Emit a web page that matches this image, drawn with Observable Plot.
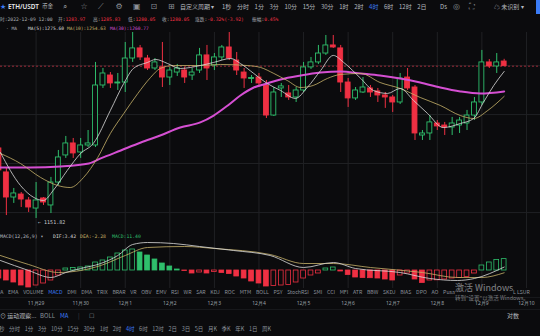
<!DOCTYPE html>
<html><head><meta charset="utf-8">
<script src="https://cdn.jsdelivr.net/npm/d3@7"></script>
<script src="https://cdn.jsdelivr.net/npm/@observablehq/plot@0.6"></script>
<style>
html,body{margin:0;padding:0;background:#0b0b0d;}
#root{position:relative;width:540px;height:336px;overflow:hidden;background:#0b0b0d;font-family:"Noto Sans CJK SC","Noto Sans",sans-serif;color:#9aa0a8;}
.t{position:absolute;white-space:nowrap;line-height:1;}
.row{position:absolute;display:flex;white-space:nowrap;line-height:1;align-items:center;}
.pl{position:absolute;left:0;}
</style></head>
<body><div id="root"></div>
<script>
// ---------------- DATA ----------------
const symbol = "ETH/USDT";
const infoTime = "2022-12-09 12:00";
const infoLabels = ["开","高","低","收","涨跌","振幅"];
const infoValues = ["1283.97","1285.83","1280.05","1280.05","-0.32%(-3.92)","0.45%"];
const maLabels = ["MA(5)","MA(10)","MA(30)"];
const maValues = ["1275.60","1254.63","1260.77"];
const macdLabels = ["DIF","DEA","MACD"];
const macdValues = ["3.42","-2.28","11.40"];
const lowLabel = "1151.82";

const dayLabels = ["11月29","11月30","12月1","12月2","12月3","12月4","12月5","12月6","12月7","12月8","12月9","12月10"];
const candlesPerDay = 6; // 4h candles, index 0 = 11-28 00:00

// OHLC of 4h candles, index 1 .. 69
const opens  = [1210.8,1190.6,1169.5,1172.0,1167.0,1160.2,1168.7,1162.8,1182.1,1204.9,1215.0,1207.4,1213.3,1213.3,1263.8,1272.2,1265.5,1266.3,1286.5,1295.0,1286.5,1278.1,1279.0,1270.5,1274.7,1276.4,1272.2,1276.4,1289.1,1280.6,1287.4,1295.8,1284.8,1274.7,1269.3,1270.5,1263.8,1238.5,1261.3,1257.1,1253.7,1259.6,1279.0,1283.2,1290.7,1297.5,1295.0,1266.3,1252.9,1257.9,1261.3,1258.8,1255.4,1253.7,1249.5,1270.5,1262.1,1221.7,1223.4,1231.8,1230.1,1228.4,1230.1,1231.8,1238.5,1249.5,1283.2,1279.8,1283.97];
const highs  = [1213.3,1193.9,1177.1,1173.7,1169.5,1182.1,1169.5,1186.4,1209.1,1220.9,1219.2,1219.2,1225.9,1283.2,1278.1,1274.7,1273.9,1300.0,1310.1,1297.5,1289.1,1286.5,1300.0,1279.0,1281.5,1279.0,1278.1,1295.0,1297.5,1290.7,1297.5,1308.4,1291.6,1278.1,1272.2,1273.9,1268.0,1262.1,1265.5,1263.8,1262.1,1283.2,1287.4,1297.5,1305.9,1305.9,1297.5,1269.7,1262.1,1270.5,1263.8,1261.3,1257.9,1255.4,1273.9,1278.1,1263.8,1225.9,1238.5,1234.3,1232.7,1236.9,1236.9,1242.8,1253.7,1293.3,1285.6,1290.7,1285.83];
const lows   = [1188.0,1154.3,1164.5,1161.1,1156.9,1151.82,1162.8,1156.0,1179.6,1202.4,1202.4,1202.4,1211.6,1211.6,1261.3,1261.3,1259.6,1257.9,1283.2,1284.8,1276.4,1276.4,1262.1,1263.8,1271.4,1265.5,1268.0,1273.9,1268.0,1276.4,1284.8,1284.8,1272.2,1261.3,1265.5,1262.1,1236.0,1237.7,1253.7,1251.2,1249.5,1257.9,1277.3,1281.5,1289.1,1295.0,1257.9,1245.3,1251.2,1257.1,1253.7,1249.5,1244.5,1241.1,1247.8,1259.6,1217.5,1217.5,1217.5,1225.9,1221.7,1221.7,1223.4,1225.9,1234.3,1247.0,1278.1,1273.9,1280.05];
const closes = [1192.3,1169.5,1172.9,1167.8,1161.1,1167.0,1165.3,1182.1,1203.2,1215.0,1206.6,1213.3,1215.0,1263.8,1273.9,1265.5,1266.3,1286.5,1295.0,1287.4,1278.1,1283.2,1270.5,1276.4,1278.1,1270.5,1274.7,1289.1,1278.1,1287.4,1295.8,1286.5,1276.4,1269.7,1270.1,1265.5,1238.5,1257.9,1263.0,1253.7,1259.6,1279.0,1283.2,1290.7,1297.5,1295.8,1266.3,1252.9,1259.6,1262.1,1257.9,1255.4,1253.7,1249.5,1269.7,1261.3,1223.4,1223.4,1232.7,1229.3,1228.4,1231.8,1234.3,1238.5,1249.5,1283.2,1279.8,1283.2,1280.05];

// moving averages: [candle index, price]
const ma5 = [[1.2,1207.4],[3.9,1179.6],[5.7,1169.5],[7.0,1167.0],[8.3,1175.4],[10.2,1192.3],[12.0,1206.6],[13.7,1215.0],[16.0,1242.8],[17.8,1265.5],[19.1,1278.1],[21.0,1283.2],[22.1,1285.7],[23.7,1282.3],[25.4,1278.1],[28.1,1280.6],[29.9,1283.2],[32.2,1286.5],[33.5,1282.3],[35.3,1273.9],[37.1,1265.5],[38.9,1259.6],[40.9,1252.9],[42.5,1262.1],[44.3,1276.4],[46.0,1289.1],[47.4,1283.2],[49.7,1269.7],[51.4,1259.6],[53.3,1257.1],[55.0,1261.3],[56.8,1251.2],[58.7,1240.2],[60.8,1228.4],[63.1,1231.8],[64.9,1236.0],[66.2,1249.5],[67.6,1263.8],[69,1275.6]];
const ma10 = [[1.2,1206.6],[3.9,1198.1],[6.6,1186.4],[8.9,1179.6],[10.6,1177.9],[12.4,1186.4],[14.3,1203.2],[16.0,1223.4],[17.8,1240.2],[19.7,1257.1],[21.4,1270.5],[22.7,1278.1],[24.5,1280.6],[28.1,1280.6],[30.8,1281.5],[34.4,1280.6],[36.2,1279.0],[38.0,1273.9],[39.8,1268.0],[41.6,1262.1],[43.3,1263.8],[45.2,1269.7],[47.0,1273.1],[49.7,1273.9],[52.3,1266.3],[55.0,1261.3],[57.7,1253.7],[60.4,1247.0],[63.1,1238.5],[64.9,1236.0],[66.8,1242.8],[69,1254.63]];
const ma30 = [[1.2,1194.8],[5.2,1194.8],[9.3,1195.6],[13.1,1198.1],[14.7,1202.4],[17.4,1209.1],[20.1,1215.8],[22.7,1221.7],[25.4,1228.4],[28.1,1232.7],[29.9,1238.5],[31.8,1247.0],[33.5,1255.4],[35.3,1262.1],[37.1,1265.5],[38.9,1268.9],[41.6,1272.2],[44.3,1274.7],[47.0,1275.6],[49.7,1273.9],[52.3,1272.2],[55.0,1269.7],[57.7,1266.3],[60.4,1262.1],[63.1,1258.8],[65.8,1257.1],[69,1258.8]];
const gridPrices = [1280.5,1239.3,1198.1,1156.8];

// MACD histogram, index 1 .. 69
const macdHist = [-8,-10,-12,-15,-17,-15,-13,-10,-5,2,2.5,3,4,8,10,13,17,20,21,18,15,11,7,4,1,-0.5,-3,-2,-3,-1.5,-2.5,-3.5,-6,-8,-11,-13,-16,-15.5,-15,-14.5,-12,-8,-5,-3,2,3,-1,-4.5,-7,-7.5,-7.7,-8,-9,-10,-5,-3,-9,-12.5,-10,-9.8,-9,-8,-7.5,-6.5,-3,5,8,10.5,11.4];
const dif = [[1.2,10],[5,0],[8,-7],[10,-2],[12,2],[14.7,7],[17,15],[19,26],[21,28],[24.5,27],[28,24],[32.6,20],[37.5,15],[42,3],[46,8],[49,2],[55,-2],[59,-8],[62.7,-10],[65,-8],[69,3.42]];
const dea = [[1.2,15],[5,6],[9,-2],[12,0],[14.7,5],[18,15],[21,23],[26,24],[30,22],[37.5,16],[42,7],[46,7],[51,3],[58,-2],[62.7,-7],[66,-7],[69,-2.28]];

const toolbarIntervals = ["1秒","分时","1分","3分","10分","15分","30分","1时","2时","4时","6时","12时","2日"];
const activeInterval = "4时";
const indicatorTabs = ["MA","EMA","VOLUME","MACD","DMI","DMA","TRIX","BRAR","VR","OBV","EMV","RSI","WR","SAR","KDJ","ROC","MTM","BOLL","PSY","StochRSI","SMI","CCI","MFI","ATR","BBW","SKDJ","BIAS","DPO","AO","Pusa"];
const activeTab = "MACD";
const bottomIntervals = ["秒","分时","1分","3分","10分","15分","30分","1时","2时","4时","6时","12时","2日","3日","5日","月K","季K","年K","1日","周K"];

// ---------------- STYLE ----------------
const BG = "#0b0b0d", UP = "#2fbf6c", DOWN = "#ef3043", GRID = "#202124";
const C5 = "#dcdcdc", C10 = "#c8b26a", C30 = "#d54fd2", BLUE = "#3b7cf6";
const MONO = "'DejaVu Sans Mono','Noto Sans CJK SC',monospace";

const root = document.getElementById("root");
function T(x, y, s, o = {}) {
  const d = document.createElement("div");
  d.className = "t";
  d.textContent = s;
  d.style.left = x + "px"; d.style.top = y + "px";
  d.style.fontSize = (o.size || 5.5) + "px";
  d.style.color = o.color || "#9aa0a8";
  if (o.font) d.style.fontFamily = o.font;
  if (o.weight) d.style.fontWeight = o.weight;
  d.style.transform = o.center ? "translate(-50%,-50%)" : "translateY(-50%)";
  if (o.opacity) d.style.opacity = o.opacity;
  root.appendChild(d);
  return d;
}
function R(x, y, items, o = {}) {
  const d = document.createElement("div");
  d.className = "row";
  d.style.left = x + "px"; d.style.top = y + "px";
  d.style.transform = "translateY(-50%)";
  d.style.gap = o.gap + "px";
  d.style.fontSize = o.size + "px";
  items.forEach(s => {
    const sp = document.createElement("span");
    sp.textContent = s;
    sp.style.color = s === o.active ? BLUE : (o.color || "#8a9099");
    d.appendChild(sp);
  });
  root.appendChild(d);
}

// ---------------- TOOLBAR ----------------
T(0, 7, "★", {size: 7, color: BLUE, font: "DejaVu Sans"});
T(8, 7, symbol, {size: 6.4, color: "#e6e8ea", weight: 600, font: "'Noto Sans',sans-serif"});
T(42, 7, "币金", {size: 5.6, color: "#b0b4ba"});
["⌕","☆","⟋","⚙","▣","⊡","⊞"].forEach((g, k) => T(63 + k * 17.5, 7, g, {size: 8, color: "#8c9097", font: "DejaVu Sans"}));
T(180, 7, "自定义周期 ▾", {size: 6, color: "#b5b9bf"});
R(222, 7, toolbarIntervals, {gap: 5.6, size: 6, active: activeInterval, color: "#b5b9bf"});
T(440, 7, "Ds", {size: 6, color: "#b5b9bf"});
T(453, 7, "◎", {size: 8, color: "#8c9097", font: "DejaVu Sans"});
T(469, 7, "⛶", {size: 8, color: "#8c9097", font: "DejaVu Sans"});
T(494, 7, "☁ 未识别 ▾", {size: 6, color: "#b5b9bf"});
const blue = document.createElement("div");
Object.assign(blue.style, {position: "absolute", left: "536px", top: "0px", width: "4px", height: "14px", background: BLUE});
root.appendChild(blue);

// info line
T(0, 20, "时:" + infoTime, {size: 4.7, color: "#a9adb3", font: MONO});
const infoX = [58, 93, 128, 162, 195, 252];
infoLabels.forEach((l, k) => {
  const d = T(infoX[k], 20, "", {size: 4.7, font: MONO});
  d.innerHTML = `<span style="color:#a9adb3">${l}:</span><span style="color:${DOWN}">${infoValues[k]}</span>`;
});
// MA legend
T(6, 29, "· MA", {size: 4.6, color: "#a9adb3", font: MONO});
const maX = [28, 67, 110], maC = [C5, C10, C30];
maLabels.forEach((l, k) => T(maX[k], 29, `${l}:${maValues[k]}`, {size: 4.6, color: maC[k], font: MONO}));

// ---------------- MAIN CHART ----------------
const candles = opens.map((o, k) => ({i: k + 1, o, h: highs[k], l: lows[k], c: closes[k]}));
const dayIdx = dayLabels.map((_, k) => (k + 1) * candlesPerDay);
const xDomain = [1.211, 73.89];
const lowest = d3.least(candles, d => d.l);

const main = Plot.plot({
  width: 540, height: 196, margin: 0,
  style: {background: "transparent", color: "#9aa0a8"},
  x: {domain: xDomain, axis: null},
  y: {domain: [1143.4, 1308.4], axis: null},
  marks: [
    Plot.gridY(gridPrices, {stroke: GRID, strokeOpacity: 1}),
    Plot.gridX(dayIdx, {stroke: GRID, strokeOpacity: 1}),
    Plot.ruleY([closes[closes.length - 1]], {stroke: "#9c2a38", strokeDasharray: "2,2"}),
    Plot.ruleX(candles, {x: "i", y1: "l", y2: "h", stroke: d => d.c >= d.o ? UP : DOWN, clip: true}),
    Plot.rect(candles, {x1: d => d.i - 0.33, x2: d => d.i + 0.33, y1: "o", y2: "c",
      fill: d => d.c >= d.o ? BG : DOWN, stroke: d => d.c >= d.o ? UP : DOWN, strokeWidth: 0.9, clip: true}),
    Plot.line(ma30, {x: d => d[0], y: d => d[1], stroke: C30, strokeWidth: 2, curve: "monotone-x"}),
    Plot.line(ma10, {x: d => d[0], y: d => d[1], stroke: C10, strokeWidth: 0.8, curve: "monotone-x"}),
    Plot.line(ma5, {x: d => d[0], y: d => d[1], stroke: C5, strokeWidth: 0.8, curve: "monotone-x"}),
    Plot.text([lowest], {x: "i", y: "l", text: () => "← " + lowLabel, textAnchor: "start", dx: 2, dy: 4,
      fill: "#c8ccd0", fontSize: 5, fontFamily: "DejaVu Sans Mono"})
  ]
});
const mw = document.createElement("div"); mw.className = "pl"; mw.style.top = "32px";
mw.appendChild(main); root.appendChild(mw);

// ---------------- MACD ----------------
const hist = macdHist.map((v, k) => ({i: k + 1, v, filled: k === 0 || v < macdHist[k - 1]}));
const macd = Plot.plot({
  width: 540, height: 60, margin: 0,
  style: {background: "transparent"},
  x: {domain: xDomain, axis: null},
  y: {domain: [-18, 42], axis: null},
  marks: [
    Plot.gridX(dayIdx, {stroke: GRID, strokeOpacity: 1}),
    Plot.rect(hist, {x1: d => d.i - 0.32, x2: d => d.i + 0.32, y1: 0, y2: "v",
      fill: d => d.filled ? (d.v >= 0 ? UP : DOWN) : BG,
      stroke: d => d.v >= 0 ? UP : DOWN, strokeWidth: 0.8, clip: true}),
    Plot.line(dea, {x: d => d[0], y: d => d[1], stroke: C10, strokeWidth: 0.8, curve: "monotone-x"}),
    Plot.line(dif, {x: d => d[0], y: d => d[1], stroke: C5, strokeWidth: 0.8, curve: "monotone-x"})
  ]
});
const cw = document.createElement("div"); cw.className = "pl"; cw.style.top = "228px";
cw.appendChild(macd); root.appendChild(cw);

T(0, 237, "MACD(12,26,9) ▾", {size: 4.8, color: "#b9bdc2", font: MONO});
const mX = [53, 80, 112], mC = ["#d8d8d8", C10, UP];
macdLabels.forEach((l, k) => T(mX[k], 237, `${l}:${macdValues[k]}`, {size: 4.8, color: mC[k], font: MONO}));

// indicator tabs
R(-4, 292, indicatorTabs, {gap: 4.7, size: 5.2, active: activeTab, color: "#8a9099"});
T(513, 292, "L  LSUR", {size: 5.2, color: "#8a9099"});

// date row
const dates = Plot.plot({
  width: 540, height: 12, margin: 0,
  style: {background: "transparent"},
  x: {domain: xDomain, axis: null},
  marks: [
    Plot.text(dayLabels, {x: (d, k) => dayIdx[k], frameAnchor: "middle", text: d => d, fill: "#9aa0a8", fontSize: 5})
  ]
});
const dw = document.createElement("div"); dw.className = "pl"; dw.style.top = "297px";
dw.appendChild(dates); root.appendChild(dw);
[297, 309].forEach(y => {
  const l = document.createElement("div");
  Object.assign(l.style, {position: "absolute", left: "0", top: y + "px", width: "540px", height: "1px", background: "#17181b"});
  root.appendChild(l);
});

// lower toolbar
T(0, 316, "⊙ 运动观察...", {size: 6, color: "#b5b9bf"});
T(40, 316, "BOLL", {size: 6, color: "#8a9099"});
T(60, 316, "MA", {size: 6, color: BLUE});
T(78, 316, "|", {size: 6, color: "#44474c"});
T(89, 316, "☐", {size: 6, color: "#8a9099", font: "DejaVu Sans"});
T(507, 316, "对数", {size: 6, color: "#b5b9bf"});
R(-1, 330, bottomIntervals, {gap: 4.6, size: 5.5, active: activeInterval, color: "#8a9099"});

// OS watermark
T(455, 287, "激活 Windows", {size: 9, color: "#cfd2d6", opacity: 0.6});
T(455, 299, "转到\"设置\"以激活 Windows。", {size: 5.5, color: "#cfd2d6", opacity: 0.55});
</script>
</body></html>
